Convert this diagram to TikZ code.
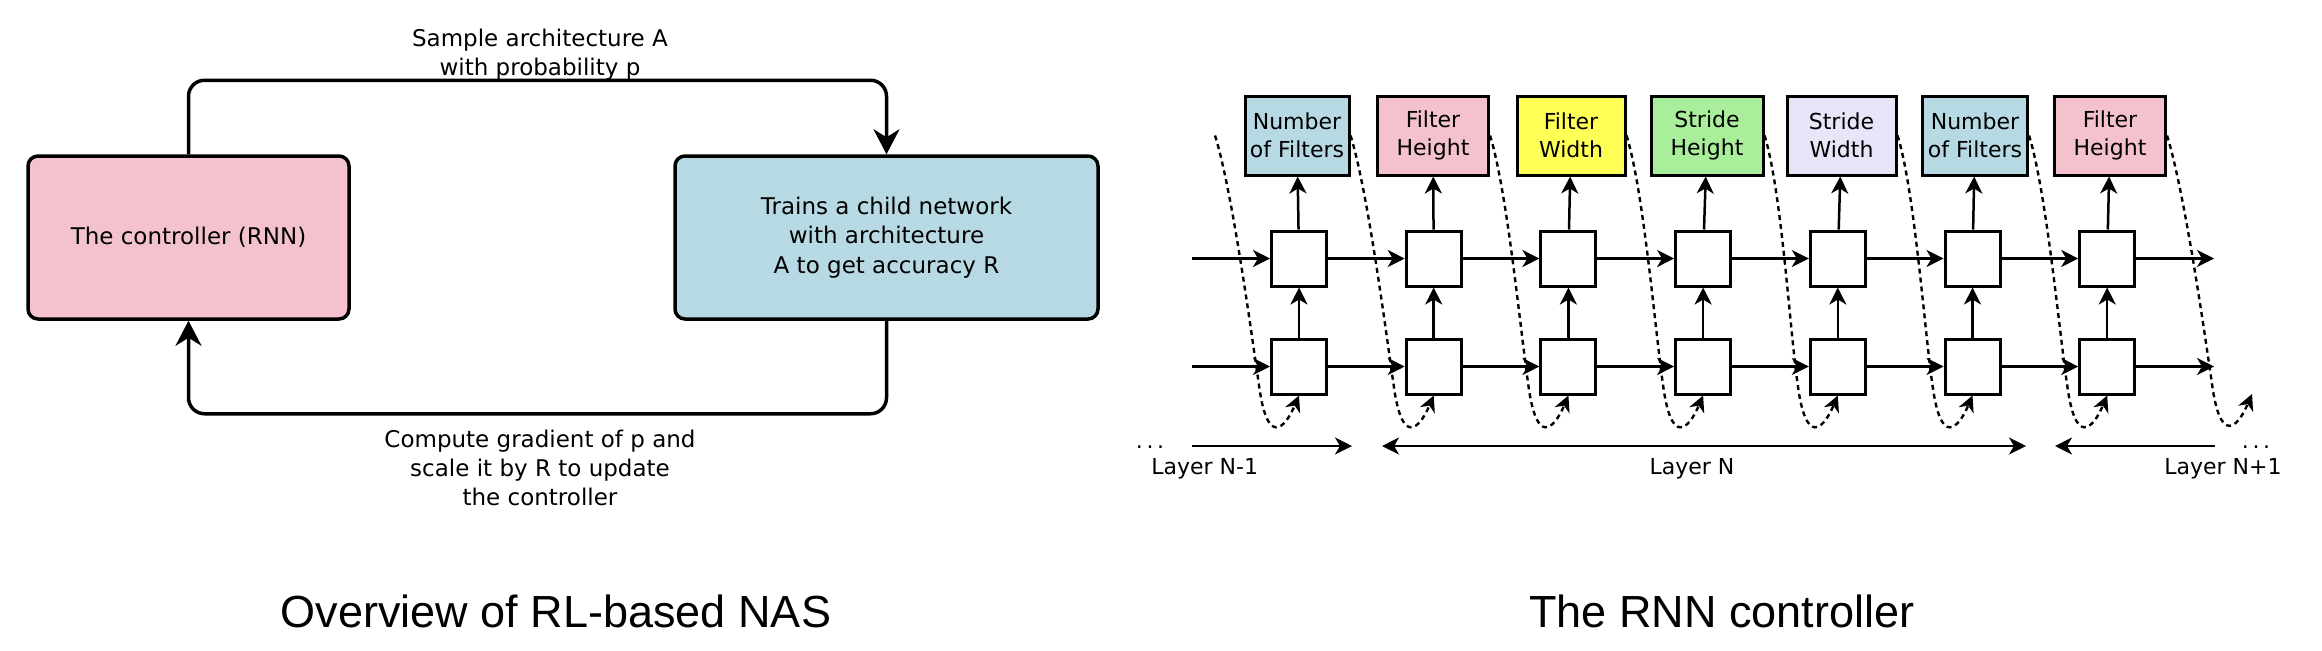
\documentclass[tikz,border=0pt]{standalone}
\usepackage{fontspec}
\setmainfont{DejaVu Sans}
\newfontfamily\titlefont{Liberation Sans}
\usetikzlibrary{arrows.meta,calc}
\definecolor{boxpink}{HTML}{F4C2CC}
\definecolor{boxblue}{HTML}{B7D9E4}
\definecolor{boxyellow}{HTML}{FFFF55}
\definecolor{boxgreen}{HTML}{A9EE9B}
\definecolor{boxlav}{HTML}{E6E6F8}
\begin{document}
\begin{tikzpicture}[x=0.5pt,y=-0.5pt,
  bigbox/.style={draw,line width=1.75pt,rounded corners=5pt,minimum height=81.5pt,inner sep=0pt,align=center,font=\fontsize{11.5}{14.75}\selectfont},
  loopline/.style={line width=1.75pt,rounded corners=8pt,-{Stealth[length=12.5pt,width=13pt,inset=4pt]}},
  lbl/.style={align=center,font=\fontsize{11.5}{14.5}\selectfont,inner sep=0pt},
  outbox/.style={draw,line width=1.5pt,minimum height=39.5pt,inner sep=0pt,align=center,font=\fontsize{11}{14.15}\selectfont},
  cellbox/.style={draw,line width=1.5pt,fill=white,minimum width=27.5pt,minimum height=27.5pt,inner sep=0pt},
  sarrow/.style={line width=1.25pt,-{Stealth[length=8.5pt,width=8.5pt,inset=2.5pt]}},
  barrow/.style={line width=1.25pt,{Stealth[length=8.5pt,width=8.5pt,inset=2.5pt]}-{Stealth[length=8.5pt,width=8.5pt,inset=2.5pt]}},
  darrow/.style={line width=1.2pt,dash pattern=on 2.5pt off 2pt,-{Stealth[length=8pt,width=8pt,inset=2.5pt]}},
  txtsmall/.style={font=\fontsize{11}{13}\selectfont,inner sep=0pt},
  titletxt/.style={font=\titlefont\fontsize{22.5}{27}\selectfont,inner sep=0pt}
]
\useasboundingbox (0,0) rectangle (2322,650);

% ---------------- left panel ----------------
\node[bigbox,fill=boxpink,minimum width=160.5pt] (ctrl) at (188.5,237.5) {The controller (RNN)};
\node[bigbox,fill=boxblue,minimum width=211.5pt] (child) at (886.5,237.5) {Trains a child network\\with architecture\\A to get accuracy R};
\draw[loopline] (ctrl.north) -- ++(0,-74) -| (child.north);
\draw[loopline] (child.south) -- ++(0,93) -| (ctrl.south);
\node[lbl] (toptxt) at (540,54.7) {Sample architecture A\\with probability p};
\node[lbl] (bottxt) at (540,468) {Compute gradient of p and\\scale it by R to update\\the controller};
\node[titletxt,anchor=base] (t1) at (556,627) {Overview of RL-based NAS};

% ---------------- right panel ----------------
\node[outbox,fill=boxblue,minimum width=52pt]   (o1) at (1297,135.5)   {Number\\of Filters};
\node[outbox,fill=boxpink,minimum width=55.5pt] (o2) at (1433,135.5)   {Filter\\Height};
\node[outbox,fill=boxyellow,minimum width=54pt] (o3) at (1571,135.5)   {Filter\\Width};
\node[outbox,fill=boxgreen,minimum width=56pt]  (o4) at (1707,135.5)   {Stride\\Height};
\node[outbox,fill=boxlav,minimum width=54.5pt]  (o5) at (1841.5,135.5) {Stride\\Width};
\node[outbox,fill=boxblue,minimum width=52.5pt] (o6) at (1975,135.5)   {Number\\of Filters};
\node[outbox,fill=boxpink,minimum width=55.5pt] (o7) at (2110,135.5)   {Filter\\Height};

\foreach \i/\x in {1/1299,2/1433.7,3/1568.4,4/1703.1,5/1837.8,6/1972.5,7/2107.2}{
  \node[cellbox] (a\i) at (\x,258.5) {};
  \node[cellbox] (b\i) at (\x,366.5) {};
}

\coordinate (ina) at (1192,258.5);
\coordinate (inb) at (1192,366.5);
\coordinate (outa) at (2214,258.5);
\coordinate (outb) at (2214,366.5);
\draw[sarrow] (ina) -- (a1);
\draw[sarrow] (inb) -- (b1);
\foreach \i/\j in {1/2,2/3,3/4,4/5,5/6,6/7}{
  \draw[sarrow] (a\i) -- (a\j);
  \draw[sarrow] (b\i) -- (b\j);
}
\draw[sarrow] (a7) -- (outa);
\draw[sarrow] (b7) -- (outb);
\foreach \i in {1,...,7}{
  \draw[sarrow] (b\i) -- (a\i);
  \draw[sarrow] (a\i) -- (o\i);
}

% dashed feedback curves
\coordinate (ds) at (1215,135.5);
\coordinate (de) at (2252,394);
\foreach \s/\e in {ds/b1.south,o1.east/b2.south,o2.east/b3.south,o3.east/b4.south,o4.east/b5.south,o5.east/b6.south,o6.east/b7.south,o7.east/de}{
  \draw[darrow] (\s) .. controls +(17,54) and ($(\e)+(-48,-65)$) .. ($(\e)+(-40,-10)$) .. controls +(8,60) and +(-15,35) .. (\e);
}

% layer arrows
\coordinate (l1s) at (1192,446);
\coordinate (l1e) at (1352,446);
\coordinate (l2s) at (1382,446);
\coordinate (l2e) at (2026,446);
\coordinate (l3s) at (2215,446);
\coordinate (l3e) at (2055,446);
\draw[sarrow] (l1s) -- (l1e);
\draw[barrow] (l2s) -- (l2e);
\draw[sarrow] (l3s) -- (l3e);
\node[txtsmall,anchor=base] (dotl) at (1150,448) {.\hspace{1.85pt}.\hspace{1.85pt}.};
\node[txtsmall,anchor=base] (dotr) at (2256,448) {.\hspace{1.85pt}.\hspace{1.85pt}.};
\node[txtsmall,anchor=base west] (ln1) at (1151,474) {Layer N-1};
\node[txtsmall,anchor=base] (ln) at (1692,474) {Layer N};
\node[txtsmall,anchor=base east] (ln2) at (2282,474) {Layer N+1};
\node[titletxt,anchor=base] (t2) at (1722,627) {The RNN controller};
\end{tikzpicture}
\end{document}
